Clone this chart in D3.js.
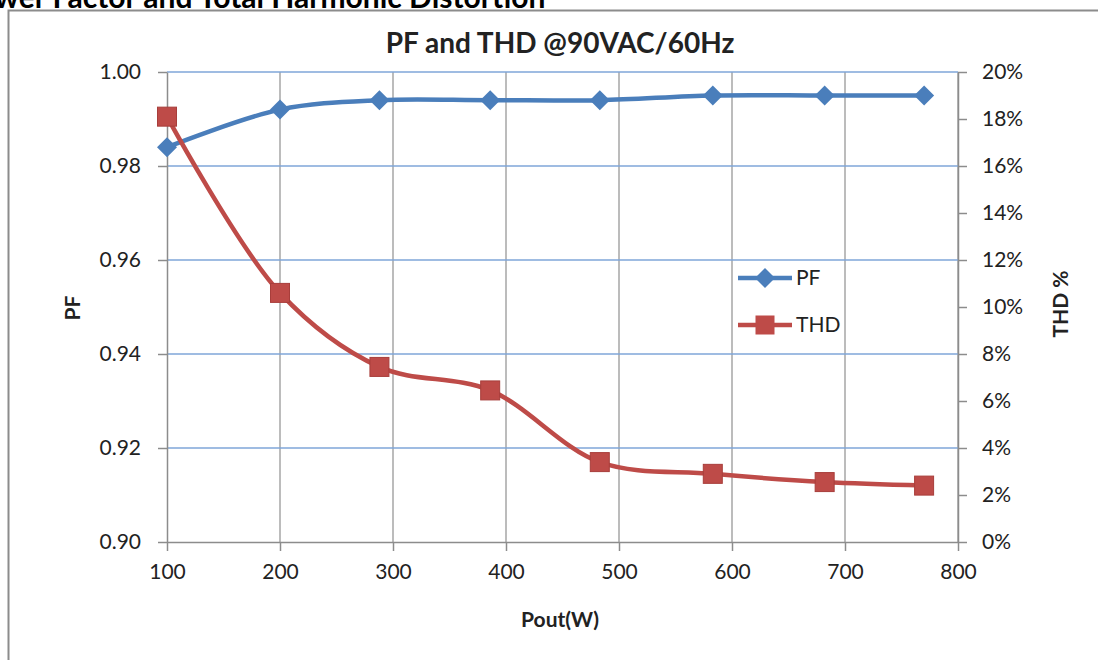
<!DOCTYPE html>
<html>
<head>
<meta charset="utf-8">
<script src="https://cdn.jsdelivr.net/npm/d3@7"></script>
<style>
	body { margin: 0; background: #fff; }
	svg text { font-family: Lato, "Open Sans", sans-serif; fill: #222; }
	.tick text { font-size: 21px; }
	.bold { font-weight: bold; }
</style>
</head>
<body>
<div id="chart"></div>
<script>
// data
const pout = [100, 200, 288, 386, 483, 583, 682, 770];
const pf = [0.984, 0.992, 0.994, 0.994, 0.994, 0.995, 0.995, 0.995];
const thd = [18.1, 10.6, 7.45, 6.45, 3.4, 2.9, 2.55, 2.4];
const xTicks = [100, 200, 300, 400, 500, 600, 700, 800];
const pfTicks = [0.90, 0.92, 0.94, 0.96, 0.98, 1.00];
const thdTicks = [0, 2, 4, 6, 8, 10, 12, 14, 16, 18, 20];
const seriesNames = ['PF', 'THD'];

(() => {
	const width = 1098, height = 660;
	const margin = { top: 72, right: 140, bottom: 118, left: 167 };
	const innerW = width - margin.left - margin.right;
	const innerH = height - margin.top - margin.bottom;
	const blue = '#4a7ebb', red = '#be4b48';

	const svg = d3.select('#chart').append('svg')
		.attr('width', width)
		.attr('height', height);

	// cut-off caption and outer frame
	svg.append('text')
		.attr('class', 'bold')
		.attr('x', -40)
		.attr('y', 8)
		.style('font-size', '30px')
		.style('fill', '#000')
		.text('Power Factor and Total Harmonic Distortion');
	svg.append('path')
		.attr('d', `M8.5,${height} V10.5 H${width}`)
		.attr('fill', 'none')
		.attr('stroke', '#8c8c8c')
		.attr('stroke-width', 2);

	const chart = svg.append('g')
		.attr('transform', `translate(${margin.left}, ${margin.top})`);

	const x = d3.scaleLinear().domain([100, 800]).range([0, innerW]);
	const y = d3.scaleLinear().domain([0.90, 1.00]).range([innerH, 0]);
	const y2 = d3.scaleLinear().domain([0, 20]).range([innerH, 0]);

	// gridlines
	chart.selectAll('.vgrid')
		.data(xTicks.slice(1))
		.enter().append('line')
			.attr('x1', d => x(d)).attr('x2', d => x(d))
			.attr('y1', 0).attr('y2', innerH)
			.attr('stroke', '#a6a6a6').attr('stroke-width', 1.5);
	chart.selectAll('.hgrid')
		.data(pfTicks.slice(1))
		.enter().append('line')
			.attr('x1', 0).attr('x2', innerW)
			.attr('y1', d => y(d)).attr('y2', d => y(d))
			.attr('stroke', '#7fa6d9').attr('stroke-width', 1.5);

	// axes
	const styleAxis = (g) => {
		g.select('.domain').attr('stroke', '#8c8c8c').attr('stroke-width', 1.5);
		g.selectAll('.tick line').attr('stroke', '#8c8c8c').attr('stroke-width', 1.5);
		g.selectAll('.tick text').style('fill', '#222');
	};
	chart.append('g')
		.attr('transform', `translate(0, ${innerH})`)
		.call(d3.axisBottom(x).tickValues(xTicks).tickSize(9).tickSizeOuter(0).tickPadding(13))
		.call(styleAxis)
		.call(g => g.selectAll('.tick text').attr('dy', '0.71em'));
	chart.append('g')
		.call(d3.axisLeft(y).tickValues(pfTicks).tickFormat(d3.format('.2f')).tickSize(9).tickSizeOuter(0).tickPadding(17))
		.call(styleAxis);
	chart.append('g')
		.attr('transform', `translate(${innerW}, 0)`)
		.call(d3.axisRight(y2).tickValues(thdTicks).tickFormat(d => d + '%').tickSize(9).tickSizeOuter(0).tickPadding(15))
		.call(styleAxis);

	// titles
	svg.append('text')
		.attr('class', 'bold')
		.attr('x', 560).attr('y', 53)
		.attr('text-anchor', 'middle')
		.style('font-size', '28px')
		.text('PF and THD @90VAC/60Hz');
	svg.append('text')
		.attr('class', 'bold')
		.attr('x', 560).attr('y', 627)
		.attr('text-anchor', 'middle')
		.style('font-size', '21px')
		.text('Pout(W)');
	svg.append('text')
		.attr('class', 'bold')
		.attr('transform', 'translate(80, 308) rotate(-90)')
		.attr('text-anchor', 'middle')
		.style('font-size', '21px')
		.text('PF');
	svg.append('text')
		.attr('class', 'bold')
		.attr('transform', 'translate(1068, 304) rotate(-90)')
		.attr('text-anchor', 'middle')
		.style('font-size', '21px')
		.text('THD %');

	// series
	const curve = d3.curveCatmullRom.alpha(0.5);
	const pfData = pout.map((p, i) => [x(p), y(pf[i])]);
	const thdData = pout.map((p, i) => [x(p), y2(thd[i])]);
	const line = d3.line().curve(curve);

	chart.append('path')
		.attr('d', line(pfData))
		.attr('fill', 'none').attr('stroke', blue).attr('stroke-width', 4.5);
	chart.append('path')
		.attr('d', line(thdData))
		.attr('fill', 'none').attr('stroke', red).attr('stroke-width', 4.5);

	const diamond = d3.symbol().type(d3.symbolSquare).size(200);
	chart.selectAll('.pf-marker')
		.data(pfData)
		.enter().append('path')
			.attr('d', diamond)
			.attr('transform', d => `translate(${d[0]}, ${d[1]}) rotate(45)`)
			.attr('fill', blue);
	chart.selectAll('.thd-marker')
		.data(thdData)
		.enter().append('rect')
			.attr('x', d => d[0] - 9.5).attr('y', d => d[1] - 9.5)
			.attr('width', 19).attr('height', 19)
			.attr('fill', red)
			.attr('stroke', '#a83e3b').attr('stroke-width', 1);

	// legend
	const legend = svg.append('g').attr('transform', 'translate(738, 278)');
	seriesNames.forEach((name, i) => {
		const g = legend.append('g').attr('transform', `translate(0, ${i * 47})`);
		const c = i === 0 ? blue : red;
		g.append('line')
			.attr('x1', 0).attr('x2', 54)
			.attr('stroke', c).attr('stroke-width', 4.5);
		if (i === 0) {
			g.append('path')
				.attr('d', diamond)
				.attr('transform', 'translate(27, 0) rotate(45)')
				.attr('fill', c);
		} else {
			g.append('rect')
				.attr('x', 17.5).attr('y', -9.5)
				.attr('width', 19).attr('height', 19)
				.attr('fill', c);
		}
		g.append('text')
			.attr('x', 58).attr('y', 0)
			.attr('dy', '0.35em')
			.style('font-size', '21px')
			.text(name);
	});
})();
</script>
</body>
</html>
